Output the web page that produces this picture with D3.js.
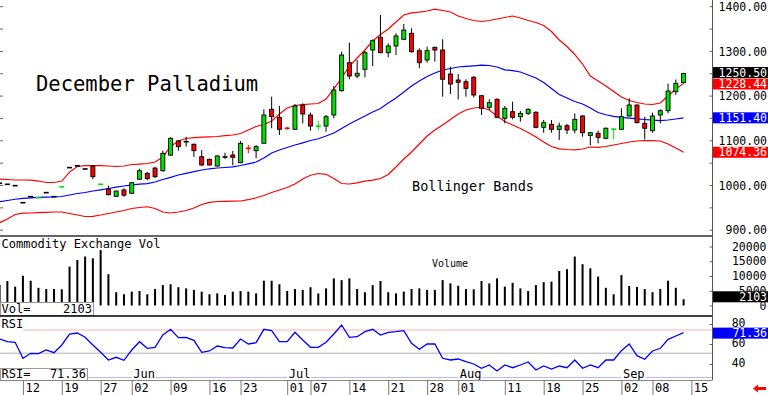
<!DOCTYPE html>
<html><head><meta charset="utf-8">
<script src="https://cdn.jsdelivr.net/npm/d3@7/dist/d3.min.js"></script>
<style>
html,body{margin:0;padding:0;background:#fff;}
svg{display:block;}
text{font-family:"DejaVu Sans Mono",monospace;}
</style></head><body>
<svg id="c" width="768" height="395"></svg>
<script>
// ---------------- DATA ----------------
const dates = [
"2014-05-07","2014-05-08","2014-05-09","2014-05-12","2014-05-13","2014-05-14","2014-05-15","2014-05-16","2014-05-19","2014-05-20","2014-05-21","2014-05-22","2014-05-23","2014-05-27","2014-05-28","2014-05-29","2014-05-30",
"2014-06-02","2014-06-03","2014-06-04","2014-06-05","2014-06-06","2014-06-09","2014-06-10","2014-06-11","2014-06-12","2014-06-13","2014-06-16","2014-06-17","2014-06-18","2014-06-19","2014-06-23","2014-06-24","2014-06-25","2014-06-26","2014-06-27","2014-06-30",
"2014-07-01","2014-07-02","2014-07-03","2014-07-07","2014-07-08","2014-07-09","2014-07-10","2014-07-11","2014-07-14","2014-07-15","2014-07-16","2014-07-17","2014-07-18","2014-07-21","2014-07-22","2014-07-23","2014-07-24","2014-07-25","2014-07-28","2014-07-29","2014-07-30","2014-07-31",
"2014-08-01","2014-08-04","2014-08-05","2014-08-06","2014-08-07","2014-08-08","2014-08-11","2014-08-12","2014-08-13","2014-08-14","2014-08-15","2014-08-18","2014-08-19","2014-08-20","2014-08-21","2014-08-22","2014-08-25","2014-08-26","2014-08-27","2014-08-28","2014-08-29",
"2014-09-02","2014-09-03","2014-09-04","2014-09-05","2014-09-08","2014-09-09","2014-09-10","2014-09-11","2014-09-12"];

const open = [
1005,1002.7,999.6,961.5,975,972.5,984,975,996.8,1040,
1044,1037,1043.6,1002.5,992.2,975.8,990,982.6,1014,1027.3,
1039,1033,1068,1099.6,1098,1092.2,1064.4,1058.6,1043.6,1063.8,
1068.2,1051,1083.5,1077.9,1094.4,1170.5,1152.6,1128.3,1125.7,1180.1,
1157.7,1132.6,1133.1,1157.7,1212.1,1274.7,1245,1260,1303.1,1331.5,
1297.1,1312.1,1327.1,1340.5,1301.6,1280.8,1309.2,1303.1,1249.4,1236,
1232.2,1242.1,1200.9,1174.9,1192.8,1150.3,1165.1,1153.9,1161.5,1163.8,
1130.2,1136.9,1125.7,1133.8,1124.2,1155.5,1111.9,1116.8,1105.6,1125.5,
1125.7,1155.5,1180.1,1139,1122.6,1157.7,1167.3,1209.8,1230];
const high = [
1005,1002.7,999.6,961.5,975,972.9,984,975,997.2,1040,
1044,1037,1046,1002.9,999.6,988,993.7,1007,1037.6,1030,
1042,1077.8,1108,1102,1109,1094,1079.4,1060,1068,1073.4,
1077.2,1099.6,1090.6,1090.6,1170.5,1198.7,1177.9,1131,1182.3,1184,
1163,1145,1157.7,1222.6,1299.3,1319.5,1280.8,1301.6,1327,1381.4,
1318,1340.5,1361.3,1351.7,1307,1310.5,1310.5,1327.1,1265.8,1249.4,
1237.6,1245,1202.5,1192.8,1195,1177.9,1187.5,1166.7,1172.7,1166,
1146.5,1146.5,1140.5,1137.6,1161.5,1157.7,1119,1122.6,1130.2,1129,
1172.7,1195.1,1181,1153.9,1162.9,1170.5,1228,1237,1252.3];
const low = [
1005,1002.7,999.6,961.5,975,972.5,984,975,996.8,1040,
1044,1037,1014,1002.5,978,975,975,981,1013,1012,
1017,1031,1066,1078,1087,1064,1044,1044,1042,1059.3,
1045,1050,1072,1060.9,1094,1128,1113,1125,1125,1139,
1122.6,1124,1120.4,1150.3,1210,1237.6,1240,1242,1267.3,1295.7,
1286.8,1292,1325,1297,1262.2,1274.7,1277,1198.7,1204.7,1192.8,
1198.7,1197,1157.7,1168.9,1150.3,1139,1148,1142.7,1157.7,1128,
1118.1,1118.1,1101.8,1115.2,1116.8,1109.2,1090.6,1094.4,1103.3,1103,
1124,1154,1139,1103,1118.1,1139,1161.5,1203,1229];
const close = [
1005,1002.7,999.6,961.5,975,972.9,984,975,997.2,1040,
1044,1037,1019.7,1002.9,979.4,987.7,978.4,1006.3,1033,1015.2,
1019.7,1072,1105.6,1086.8,1098,1077.9,1045.9,1045.9,1066,1063.8,
1063,1094.4,1083,1086.8,1157.7,1153.9,1125.7,1127.8,1177.9,1160,
1133.1,1133,1153.9,1213.6,1292,1245,1251,1297.1,1324,1297.1,
1312.1,1334.5,1347.9,1299.3,1274.7,1301.6,1303.1,1237.6,1227.1,1230.9,
1217.4,1202.5,1172.7,1185.2,1152.6,1172.7,1152.6,1161.5,1170.5,1130.2,
1140.5,1125.7,1133.1,1124.2,1148.1,1118.1,1118.1,1107.8,1128,1126.5,
1153.9,1180.1,1140.5,1128,1155.5,1167.3,1211.4,1228.6,1250.5];

const volume = [
7000,8300,6400,10100,8400,6000,5600,5600,5500,13200,
15400,16600,16000,18800,10600,4500,3800,4700,4900,3800,
5600,6900,7200,6200,5800,5300,4700,3800,4100,3600,
4700,4900,4700,4100,8400,8400,7200,4900,5600,5300,
6200,4100,5800,9200,8600,9200,5600,4500,6900,8300,
4500,4100,4700,5600,5800,5300,5300,8600,7500,6700,
5600,5500,8300,7500,9200,6400,7700,5800,4900,6900,
7900,8100,11700,12300,16600,14000,12600,9800,6000,3800,
10300,6600,6300,5600,4500,5600,8400,6000,2103];

const rsi = [
65,62.3,61.7,45.7,50.7,50.3,54,51.3,59,70,
71,66.7,59,51.7,44,46.7,43.7,54,62.3,55.7,
56.7,69,74.7,66.3,66.7,63.7,51.7,53,58,56.3,
56,65,60,61.3,74.7,73.3,62.3,62.3,71.7,64,
56.7,56.7,61.7,70,79,66.7,67.3,72.3,74.7,69,
71.7,72.3,73.3,60.7,54.7,60,60,45.7,44,45,
42.3,40,35.7,39,33,39,36.3,39,42,34,
38,35,38,36.3,44,35.7,39,36.3,44,44,
53.3,60,48.3,44.7,53,55.7,64.7,68,71.36];

const bbUpper = [
1014.5,1013.4,1012.3,1012.3,1012,1010,1006.7,1006.7,1010,1030,
1042.5,1044.3,1044.3,1044.3,1043.6,1042.5,1043.6,1047,1048,1049.2,
1052.6,1063.8,1087.3,1099.6,1105.2,1107,1108,1109,1109.6,1111.4,
1113,1116.3,1124.2,1132,1136.5,1144.3,1160,1173.4,1179,1180.8,
1182.3,1183.4,1193.5,1216,1240.5,1267.3,1285.2,1303.1,1323.3,1337.8,
1350,1365.8,1381.4,1386,1388,1390.4,1394.4,1391.5,1388.1,1379.2,
1373.6,1369.1,1366.9,1369.1,1372.5,1375.8,1379.2,1374.7,1369.1,1364.7,
1357.9,1344.5,1325.5,1311,1293.1,1271.8,1245,1233.8,1222.6,1210.3,
1198,1190.2,1185.7,1182.3,1181.2,1184.6,1200.2,1215.9,1228.44];
const bbMid = [
963.8,966.4,969.3,971.4,972.5,973.4,974,974.5,975.4,978.7,
982.1,984.3,987.7,990.4,993.3,996.2,998.9,1001.6,1002.9,1004.3,
1007.8,1013.4,1018.3,1023.5,1027.3,1031.1,1034.7,1037.4,1039.1,1040.3,
1041.8,1044.7,1048.5,1052.6,1061.5,1072.7,1079.4,1085,1090.6,1095.5,
1100.7,1104.5,1110.7,1117.4,1127.5,1137.6,1146.5,1155.5,1164.4,1172.3,
1184.6,1195.7,1209.2,1222.6,1233.8,1243.8,1251.7,1258.4,1261.7,1265.1,
1266.4,1267.8,1269.1,1268.5,1265.1,1258.8,1256.8,1253.9,1247.2,1240.5,
1230.4,1217,1203.6,1195.7,1187.9,1182.3,1173.4,1163.3,1158.2,1154.8,
1152.3,1150.6,1149,1147.7,1146.3,1145.2,1146.5,1148.8,1151.4];
const bbLower = [
916.8,925,935.1,938,938.5,939.1,939.8,940.7,940.7,937.4,
934,930.7,931.1,934,937.4,940.7,944.1,948.6,950.8,952.4,
948.6,940.7,938.5,940.7,944.1,949.7,957.5,962.4,964.2,964.7,
965.1,965.3,968.2,972.5,977.6,984.3,989.9,995.5,1003.4,1014.5,
1023,1026.8,1025.1,1015.7,1004.5,1003.4,1006,1009.6,1011.9,1015.7,
1024.6,1041.4,1059.3,1074.9,1092.8,1110.7,1124.2,1135.4,1147.7,1160,
1168.9,1173.4,1175,1168.9,1155.5,1143.2,1135.4,1127.5,1118.6,1108.5,
1097.3,1087.2,1082.1,1080.5,1079.9,1081.7,1086.1,1085.5,1087.2,1090.6,
1093.9,1097.3,1099.6,1100.2,1100.2,1099.6,1092.8,1083.9,1074.36];

const priceTicks = [900,1000,1100,1200,1300,1400];
const priceMinorTicks = [900,950,1000,1050,1100,1150,1200,1250,1300,1350,1400];
const volumeTicks = [0,5000,10000,15000,20000];
const rsiTicks = [40,60,80];
const rsiGuides = [74,50.8];
const dateTicks = ["2014-05-12","2014-05-19","2014-05-27","2014-06-02","2014-06-09","2014-06-16","2014-06-23","2014-07-01","2014-07-07","2014-07-14","2014-07-21","2014-07-28","2014-08-01","2014-08-11","2014-08-18","2014-08-25","2014-09-02","2014-09-08","2014-09-15"];
const monthStarts = ["2014-06-02","2014-07-01","2014-08-01","2014-09-02"];
const monthNames = ["Jun","Jul","Aug","Sep"];
const chartTitle = "December Palladium";
const bandLabel = "Bollinger Bands";
const volTitle = "Commodity Exchange Vol";
const volLabel = "Volume";
const rsiTitle = "RSI";

// ---------------- DRAW ----------------
const svg = d3.select("#c");
const PR = 712.5;
const GREEN = "#00e000", RED = "#ff0000", BLUE = "#0000ff";
const AXF = 11.5;
const n = dates.length;
const x = d3.scaleLinear().domain([0, n-1]).range([-0.4, 683.6]);
const yP = d3.scaleLinear().domain([900,1400]).range([230.2,6.7]);
const yV = d3.scaleLinear().domain([0,20000]).range([305.5,246.5]);
const yR = d3.scaleLinear().domain([40,80]).range([364,324]);
const idxOf = d => { const i = dates.indexOf(d); return i >= 0 ? i : n; };

const defs = svg.append("defs");
defs.append("clipPath").attr("id","cp").append("rect").attr("x",0).attr("y",0).attr("width",PR).attr("height",235);
defs.append("clipPath").attr("id","cv").append("rect").attr("x",0).attr("y",237).attr("width",PR).attr("height",78);
defs.append("clipPath").attr("id","cr").append("rect").attr("x",0).attr("y",317).attr("width",PR).attr("height",62);

// ---- price panel ----
const gP = svg.append("g").attr("clip-path","url(#cp)");
const lineP = arr => d3.line().x((d,i)=>x(i)).y(d=>yP(d))(arr);
gP.append("path").attr("d",lineP(bbUpper)).attr("fill","none").attr("stroke",RED).attr("stroke-width",1.2);
gP.append("path").attr("d",lineP(bbLower)).attr("fill","none").attr("stroke",RED).attr("stroke-width",1.2);
gP.append("path").attr("d",lineP(bbMid)).attr("fill","none").attr("stroke",BLUE).attr("stroke-width",1.2);

const bars = d3.range(n).map(i => ({i, o:open[i], h:high[i], l:low[i], c:close[i]}));
bars.forEach(b => {
  const cx = x(b.i);
  const diff = b.c - b.o;
  if (Math.abs(diff) <= 1) {
    const col = diff > 0 ? GREEN : diff < 0 ? RED : "#000";
    if (b.h - b.l > 1) gP.append("line").attr("x1",cx).attr("x2",cx).attr("y1",yP(b.h)).attr("y2",yP(b.l)).attr("stroke",col).attr("stroke-width",1);
    gP.append("rect").attr("x",cx-2.5).attr("y",yP((b.o+b.c)/2)-0.8).attr("width",5).attr("height",1.6).attr("fill",col);
  } else {
    gP.append("line").attr("x1",cx).attr("x2",cx).attr("y1",yP(b.h)).attr("y2",yP(b.l)).attr("stroke","#000").attr("stroke-width",1);
    const top = yP(Math.max(b.o,b.c)), bot = yP(Math.min(b.o,b.c));
    gP.append("rect").attr("x",cx-2).attr("y",top).attr("width",4).attr("height",Math.max(1,bot-top))
      .attr("fill", diff>0?GREEN:RED).attr("stroke","#000").attr("stroke-width",0.9);
  }
});

svg.append("text").attr("x",36).attr("y",91).attr("font-size",20.5).attr("fill","#000").text(chartTitle);
svg.append("text").attr("x",412).attr("y",190.5).attr("font-size",13.5).attr("fill","#000").text(bandLabel);

// left minor ticks
svg.selectAll(".lt").data(priceMinorTicks).enter().append("line")
  .attr("x1",0).attr("x2",3).attr("y1",d=>yP(d)).attr("y2",d=>yP(d)).attr("stroke","#666");

// right price axis
const axP = svg.append("g").attr("transform",`translate(${PR},0)`)
  .call(d3.axisRight(yP).tickValues(priceTicks).tickFormat(d3.format(".2f")).tickSize(0));
axP.select(".domain").remove();
axP.selectAll("text").attr("x",54.5).attr("text-anchor","end").attr("font-size",AXF).attr("font-family",'"DejaVu Sans Mono",monospace').attr("fill","#000");
svg.selectAll(".rt").data(priceMinorTicks).enter().append("line")
  .attr("x1",PR-3).attr("x2",PR).attr("y1",d=>yP(d)).attr("y2",d=>yP(d)).attr("stroke","#666");

function tag(yc, txt, bg, fg){
  svg.append("rect").attr("x",PR+0.5).attr("y",yc-5.5).attr("width",768-PR).attr("height",11).attr("fill",bg);
  svg.append("text").attr("x",767).attr("y",yc+4).attr("text-anchor","end").attr("font-size",AXF).attr("fill",fg).text(txt);
}
const last = n-1;
tag(yP(close[last])-1, d3.format(".2f")(close[last]), "#000", "#fff");
tag(Math.max(yP(bbUpper[last]), yP(close[last])+10.5), d3.format(".2f")(bbUpper[last]), RED, "#fff");
tag(yP(bbMid[last]), d3.format(".2f")(bbMid[last]), BLUE, "#fff");
tag(yP(bbLower[last]), d3.format(".2f")(bbLower[last]), RED, "#fff");

// ---- volume panel ----
const gV = svg.append("g").attr("clip-path","url(#cv)");
gV.selectAll("rect.v").data(volume).enter().append("rect")
  .attr("x",(d,i)=>x(i)-1).attr("y",d=>yV(d)).attr("width",2).attr("height",d=>yV(0)-yV(d)).attr("fill","#000");
svg.append("text").attr("x",1.5).attr("y",248).attr("font-size",12).text(volTitle);
svg.append("text").attr("x",432).attr("y",267).attr("font-size",10).text(volLabel);
const axV = svg.append("g").attr("transform",`translate(${PR},0)`)
  .call(d3.axisRight(yV).tickValues(volumeTicks).tickFormat(d3.format("d")).tickSize(3));
axV.select(".domain").remove();
axV.selectAll("line").attr("x2",-3).attr("stroke","#666");
axV.selectAll("text").attr("x",54).attr("text-anchor","end").attr("font-size",AXF).attr("font-family",'"DejaVu Sans Mono",monospace').attr("fill","#000");
tag(yV(volume[last])-2.5, String(volume[last]), "#000", "#fff");
svg.append("rect").attr("x",0.5).attr("y",302.5).attr("width",93).attr("height",13).attr("fill","#fff").attr("stroke","#999");
svg.append("text").attr("x",1.5).attr("y",313).attr("font-size",12).text("Vol=");
svg.append("text").attr("x",92).attr("y",313).attr("font-size",12).attr("text-anchor","end").text(volume[last]);

// ---- RSI panel ----
const gR = svg.append("g").attr("clip-path","url(#cr)");
gR.append("line").attr("x1",23).attr("x2",PR).attr("y1",yR(rsiGuides[0])).attr("y2",yR(rsiGuides[0])).attr("stroke","#ffb0b0").attr("stroke-width",1);
gR.append("line").attr("x1",0).attr("x2",PR).attr("y1",yR(rsiGuides[1])).attr("y2",yR(rsiGuides[1])).attr("stroke","#b0b0b0").attr("stroke-width",1);
gR.append("path").attr("d",d3.line().x((d,i)=>x(i)).y(d=>yR(d))(rsi)).attr("fill","none").attr("stroke",BLUE).attr("stroke-width",1.3);
svg.append("text").attr("x",1.5).attr("y",328).attr("font-size",12).text(rsiTitle);
const axR = svg.append("g").attr("transform",`translate(${PR},0)`)
  .call(d3.axisRight(yR).tickValues(rsiTicks).tickFormat(d3.format("d")).tickSize(3));
axR.select(".domain").remove();
axR.selectAll("line").attr("x2",-3).attr("stroke","#666");
axR.selectAll("text").attr("x",33).attr("y",-1).attr("text-anchor","end").attr("font-size",AXF).attr("font-family",'"DejaVu Sans Mono",monospace').attr("fill","#000");
tag(yR(rsi[last])+0.5, d3.format(".2f")(rsi[last]), BLUE, "#fff");

// month strip
svg.append("line").attr("x1",87).attr("x2",PR).attr("y1",377.5).attr("y2",377.5).attr("stroke","#b8b8ff");
monthStarts.forEach((d,k)=>{
  const mx = x(idxOf(d));
  svg.append("rect").attr("x",mx).attr("y",369).attr("width",24).attr("height",10).attr("fill","#fff");
  svg.append("text").attr("x",mx+1.5).attr("y",377.5).attr("font-size",12).text(monthNames[k]);
});
svg.append("rect").attr("x",0.5).attr("y",368.5).attr("width",87).attr("height",12).attr("fill","#fff").attr("stroke","#999");
svg.append("text").attr("x",1.5).attr("y",377.5).attr("font-size",12).text("RSI=");
svg.append("text").attr("x",86).attr("y",377.5).attr("font-size",12).attr("text-anchor","end").text(d3.format(".2f")(rsi[last]));

// ---- separators & frame ----
svg.append("line").attr("x1",0).attr("x2",PR).attr("y1",236).attr("y2",236).attr("stroke","#333").attr("stroke-width",1.5);
svg.append("line").attr("x1",0).attr("x2",PR).attr("y1",316).attr("y2",316).attr("stroke","#000").attr("stroke-width",1.5);
svg.append("line").attr("x1",PR).attr("x2",PR).attr("y1",0).attr("y2",380).attr("stroke","#555").attr("stroke-width",1);

// ---- date axis ----
const axD = svg.append("g").attr("transform","translate(0,380)")
  .call(d3.axisBottom(x).tickValues(dateTicks.map(idxOf)).tickFormat(i => (i < n ? dates[i] : dateTicks[dateTicks.length-1]).slice(8)).tickSize(15));
axD.select(".domain").attr("d",`M0,0.5H${PR}`).attr("stroke","#888");
axD.selectAll("line").attr("stroke","#777");
axD.selectAll("text").attr("x",2).attr("y",12).attr("dy",0).attr("text-anchor","start").attr("font-size",12).attr("font-family",'"DejaVu Sans Mono",monospace').attr("fill","#000");

// red arrow
svg.append("path").attr("d","M753,388.5 L758,384.5 L758,387 L766,387 L766,390 L758,390 L758,392.5 Z").attr("fill","#ff0000");
</script>
</body></html>
